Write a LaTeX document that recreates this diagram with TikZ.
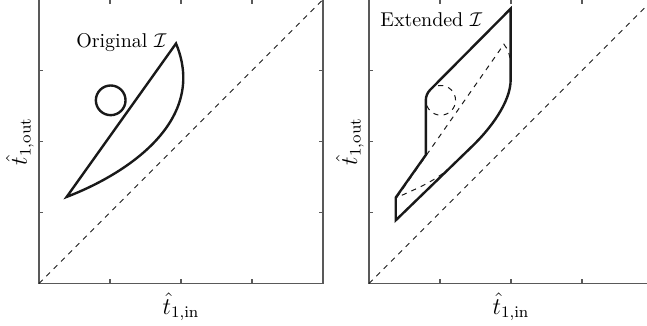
\documentclass[tikz,border=0pt]{standalone}
\usepackage{amsmath, amssymb}
\usepackage{tikz}
\usetikzlibrary{calc}

\begin{document}
\begin{tikzpicture}[x=1.25cm, y=1.25cm,
    frame/.style={line width=0.6pt, gray!70!black},
    region/.style={line width=1.2pt, black!90},
    guide/.style={line width=0.5pt, black!90, dash pattern=on 2.6pt off 2.6pt}]
  \clip (-0.549,-0.592) rectangle (8.563,3.993);

  % Both panels: box, inner ticks, diagonal and axis labels
  \foreach \dx/\p in {0/a, 4.648/b} {
    \begin{scope}[xshift=\dx*1.25cm]
      \draw[frame] (0,0) rectangle (4,4);
      \foreach \k in {1,2,3} {
        \draw[frame] (\k,0) -- (\k,0.06);
        \draw[frame] (\k,4) -- (\k,3.94);
        \draw[frame] (0,\k) -- (0.06,\k);
        \draw[frame] (4,\k) -- (3.94,\k);
      }
      \coordinate (o\p) at (0,0);
      \coordinate (d\p) at (4,4);
      \draw[guide] (o\p) -- (d\p);
      \node[font=\large] (xlab\p) at (2,-0.33) {$\hat{t}_{1,\mathrm{in}}$};
      \node[font=\large, rotate=90] (ylab\p) at (-0.27,2) {$\hat{t}_{1,\mathrm{out}}$};
    \end{scope}
  }

  % Left panel: original set
  \coordinate (tip) at (0.39,1.22);
  \coordinate (top) at (1.93,3.38);
  \draw[region] (tip) -- (top) .. controls (2.38,2.3) and (1.25,1.55) .. (tip) -- cycle;
  \draw[region] (1.01,2.58) circle (0.209);
  \node[anchor=east, inner sep=0pt] (orig) at (1.80,3.40) {Original $\mathcal{I}$};

  % Right panel: extended set over the original one
  \begin{scope}[xshift=4.648*1.25cm]
    \coordinate (b0) at (0.376,0.89);
    \coordinate (b1) at (0.376,1.21);
    \coordinate (b2) at (0.80,1.81);
    \coordinate (b5) at (1.995,3.87);
    \coordinate (b6) at (1.995,2.87);
    \coordinate (q) at (1.45,1.93);
    % original set, dashed
    \draw[guide] (0.39,1.21) -- (1.90,3.37) .. controls (1.96,3.30) and (1.995,3.2) .. (1.995,3.05)
      -- (b6) .. controls (1.995,2.55) and (1.70,2.17) .. (q)
      -- (1.17,1.66) .. controls (0.95,1.45) and (0.7,1.35) .. (0.39,1.21);
    \draw[guide] (1.01,2.58) circle (0.209);
    % extended set
    \draw[region] (b0) -- (b1) -- (b2) -- (0.80,2.58)
      arc[start angle=180, end angle=135, radius=0.209] -- (b5) -- (b6)
      .. controls (1.995,2.55) and (1.70,2.17) .. (q) -- cycle;
    \node[anchor=west, inner sep=0pt] (ext) at (0.155,3.71) {Extended $\mathcal{I}$};
  \end{scope}
\end{tikzpicture}
\end{document}
